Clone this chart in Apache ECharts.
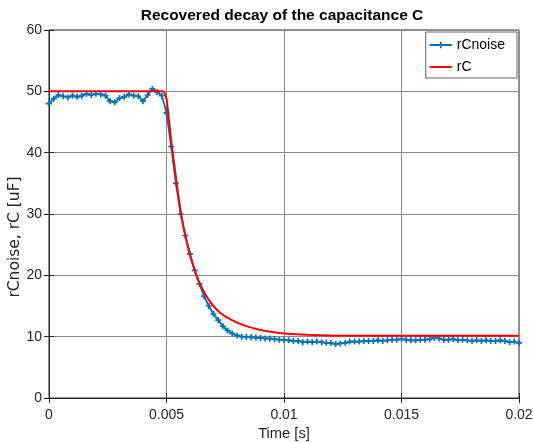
<!DOCTYPE html>
<html>
<head>
<meta charset="utf-8">
<script src="https://cdn.jsdelivr.net/npm/echarts@6/dist/echarts.min.js"></script>
<style>html,body{margin:0;padding:0;background:#fff;}#chart{width:533px;height:443px;}</style>
</head>
<body>
<div id="chart"></div>
<script>
var titleText = 'Recovered decay of the capacitance C';
var xName = 'Time [s]';
var yName = 'rCnoise, rC [uF]';
var xTickLabels = ['0', '0.005', '0.01', '0.015', '0.02'];
var yTickLabels = ['0', '10', '20', '30', '40', '50', '60'];
var noiseStep = 0.0002;
var rCnoise = [
  48.0, 48.8, 49.4, 49.2, 49.0, 49.3, 49.1, 49.3, 49.6, 49.4,
  49.6, 49.5, 49.3, 48.4, 48.2, 48.9, 49.1, 49.5, 49.3, 49.2,
  48.4, 49.4, 50.4, 49.9, 49.3, 46.5, 41.0, 35.0, 30.0, 26.5,
  23.5, 20.8, 18.6, 16.6, 15.0, 13.7, 12.7, 11.7, 11.0, 10.5,
  10.2, 10.0, 9.95, 9.9, 9.85, 9.8, 9.7, 9.7, 9.6, 9.5,
  9.5, 9.4, 9.3, 9.3, 9.1, 9.2, 9.1, 9.2, 9.1, 9.0,
  9.0, 8.8, 8.9, 9.0, 9.2, 9.2, 9.2, 9.3, 9.3, 9.3,
  9.4, 9.3, 9.4, 9.5, 9.5, 9.6, 9.5, 9.4, 9.4, 9.5,
  9.5, 9.6, 9.8, 9.7, 9.5, 9.5, 9.6, 9.4, 9.5, 9.4,
  9.3, 9.4, 9.3, 9.4, 9.3, 9.3, 9.4, 9.3, 9.1, 9.2,
  9.0
];
var rCTime = [0, 0.0048, 0.0049, 0.005, 0.0052, 0.0054, 0.0056, 0.0058, 0.006, 0.0062, 0.0064, 0.0066, 0.0068, 0.007, 0.0072, 0.0075, 0.008, 0.0085, 0.009, 0.0095, 0.01, 0.011, 0.012, 0.014, 0.02];
var rC =     [50, 50,     49.9,   48.8,  42,     36,     30.5,   26.5,   23.3,  20.8,   18.8,   17.3,   16.0,   15.0,  14.2,   13.3,   12.3,  11.6,   11.1,  10.75,  10.5, 10.3,  10.2,  10.15, 10.15];

var noiseData = rCnoise.map(function (v, i) { return [i * noiseStep, v]; });
var rCData = rC.map(function (v, i) { return [rCTime[i], v]; });

var txt = '#262626';
var gridCol = '#8c8c8c';
var font = 'Liberation Sans, Arial, Helvetica, sans-serif';
var plus = 'path://M3.6,0H6.4V3.6H10V6.4H6.4V10H3.6V6.4H0V3.6H3.6Z';

var chart = echarts.init(document.getElementById('chart'), null, {renderer: 'canvas'});
chart.setOption({
  animation: false,
  backgroundColor: '#fff',
  textStyle: {fontFamily: font},
  title: {
    text: titleText, left: 277, top: 3, textAlign: 'center',
    textStyle: {fontSize: 15.5, fontWeight: 'bold', color: '#000', fontFamily: font}
  },
  grid: {left: 49, right: 14, top: 30, bottom: 45, show: true, borderColor: txt, borderWidth: 1,
    backgroundColor: 'transparent', containLabel: false, outerBoundsMode: 'none'},
  legend: {
    orient: 'vertical', right: 16, top: 32,
    itemWidth: 22, itemHeight: 8, itemGap: 8,
    padding: [6, 12, 4, 3],
    borderColor: '#666', borderWidth: 1, backgroundColor: '#fff',
    textStyle: {fontSize: 14, color: '#000', fontFamily: font},
    data: ['rCnoise', {name: 'rC', itemStyle: {color: 'rgba(0,0,0,0)', borderWidth: 0, opacity: 0}}]
  },
  graphic: [{
    type: 'text', x: 15, y: 237, rotation: Math.PI / 2,
    style: {text: yName, fill: txt, font: '15.5px "DejaVu Sans", sans-serif', align: 'center', verticalAlign: 'middle'},
    originX: 0, originY: 0
  }],
  xAxis: [{
    type: 'value', min: 0, max: 0.02, interval: 0.005,
    name: xName, nameLocation: 'middle', nameGap: 28,
    nameTextStyle: {fontSize: 14.7, color: txt, fontFamily: font},
    axisLine: {show: true, lineStyle: {color: txt}},
    axisTick: {show: true, inside: true, length: 5, lineStyle: {color: txt}},
    axisLabel: {fontSize: 14, color: txt, margin: 10, fontFamily: font,
      formatter: function (v) { return xTickLabels[Math.round(v / 0.005)]; }},
    splitLine: {show: true, lineStyle: {color: gridCol, width: 1}}
  }, {
    type: 'value', position: 'top', min: 0, max: 0.02, interval: 0.005,
    axisLine: {show: false}, axisLabel: {show: false},
    axisTick: {show: true, inside: true, length: 5, lineStyle: {color: txt}},
    splitLine: {show: false}
  }],
  yAxis: [{
    type: 'value', min: 0, max: 60, interval: 10,
    axisLine: {show: true, lineStyle: {color: txt}},
    axisTick: {show: true, inside: true, length: 5, lineStyle: {color: txt}},
    axisLabel: {fontSize: 14, color: txt, margin: 7, fontFamily: font,
      formatter: function (v) { return yTickLabels[Math.round(v / 10)]; }},
    splitLine: {show: true, lineStyle: {color: gridCol, width: 1}}
  }, {
    type: 'value', position: 'right', min: 0, max: 60, interval: 10,
    axisLine: {show: false}, axisLabel: {show: false},
    axisTick: {show: true, inside: true, length: 5, lineStyle: {color: txt}},
    splitLine: {show: false}
  }],
  series: [{
    name: 'rCnoise', type: 'line', data: noiseData,
    xAxisIndex: 0, yAxisIndex: 0,
    color: '#0072BD',
    lineStyle: {color: '#0072BD', width: 1.8},
    itemStyle: {color: '#0072BD'},
    symbol: plus, symbolSize: 6, showSymbol: true,
    z: 2
  }, {
    name: 'rC', type: 'line', data: rCData,
    xAxisIndex: 0, yAxisIndex: 0,
    color: '#FF0000', smooth: 0.2,
    lineStyle: {color: '#FF0000', width: 2},
    itemStyle: {color: '#FF0000'},
    symbol: 'none', showSymbol: false,
    z: 3
  }]
});
</script>
</body>
</html>
